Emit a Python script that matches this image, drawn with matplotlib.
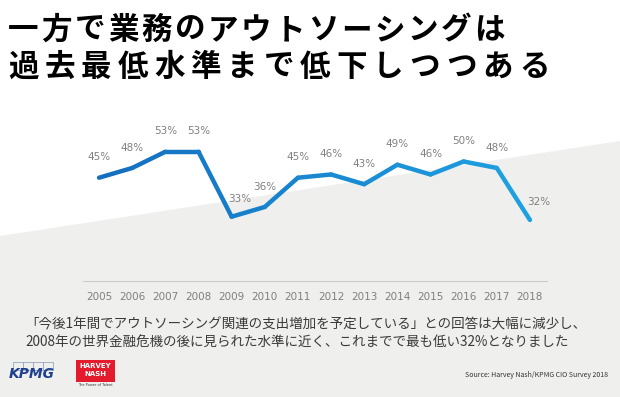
import numpy as np
import matplotlib
matplotlib.use("Agg")
import matplotlib.pyplot as plt
from matplotlib.patches import Polygon, Rectangle
from matplotlib.collections import LineCollection
from matplotlib.colors import LinearSegmentedColormap

plt.rcParams['font.family'] = ['Noto Sans CJK JP', 'DejaVu Sans']

years = [2005, 2006, 2007, 2008, 2009, 2010, 2011, 2012, 2013, 2014, 2015, 2016, 2017, 2018]
values = [45, 48, 53, 53, 33, 36, 45, 46, 43, 49, 46, 50, 48, 32]
labels = [f"{v}%" for v in values]

title_lines = ["一方で業務のアウトソーシングは", "過去最低水準まで低下しつつある"]
note_lines = ["「今後1年間でアウトソーシング関連の支出増加を予定している」との回答は大幅に減少し、",
              "2008年の世界金融危機の後に見られた水準に近く、これまでで最も低い32%となりました"]
source = "Source: Harvey Nash/KPMG CIO Survey 2018"

W, H = 620, 397
fig = plt.figure(figsize=(W / 100, H / 100), dpi=100)
fig.patch.set_facecolor('white')

def fx(px):
    return px / W

def fy(py):
    return 1 - py / H

# grey diagonal background, kept behind the axes
bg = Polygon([(0, fy(236)), (1, fy(141)), (1, 0), (0, 0)], closed=True,
             transform=fig.transFigure, facecolor='#efefed', edgecolor='none', zorder=-10)
fig.patches.append(bg)

# title, one glyph at a time to get the wide spacing
for line, y, pitch in zip(title_lines, [30, 67], [33.3, 36.5]):
    for i, ch in enumerate(line):
        fig.text(fx(8 + i * pitch), fy(y), ch, fontsize=22, fontweight='bold',
                 color='black', ha='left', va='center')

ax = fig.add_axes([fx(82.5), fy(281), fx(464), fy(129) - fy(281)])
ax.set_facecolor('none')
ax.set_zorder(5)
ax.set_xlim(2004.5, 2018.5)
ax.set_ylim(13.2, 60)

x = np.array(years, dtype=float)
y = np.array(values, dtype=float)
pts = np.column_stack([x, y]).reshape(-1, 1, 2)
segs = np.concatenate([pts[:-1], pts[1:]], axis=1)
cmap = LinearSegmentedColormap.from_list('blues', ['#1470bf', '#1e9fe0'])
lc = LineCollection(segs, colors=cmap(np.linspace(0, 1, len(segs))), linewidths=3.2,
                    capstyle='round', joinstyle='round')
ax.add_collection(lc)

label_font = ['Liberation Sans Narrow', 'DejaVu Sans']
for xi, yi, lab in zip(years, values, labels):
    dx, dy = 0, 11
    if xi in (2009, 2018):
        dx, dy = 6, 9
    ax.annotate(lab, (xi, yi), xytext=(dx, dy), textcoords='offset points',
                ha='center', va='bottom', fontsize=7.5, color='#808080', family=label_font)

for s in ['top', 'right', 'left']:
    ax.spines[s].set_visible(False)
ax.spines['bottom'].set_color('#cccccc')
ax.spines['bottom'].set_linewidth(0.8)
ax.set_yticks([])
ax.set_xticks(years)
ax.set_xticklabels([str(v) for v in years], fontsize=7.5, color='#808080', family=label_font)
ax.tick_params(axis='x', length=0, pad=8)

for line, y in zip(note_lines, [324, 342]):
    fig.text(fx(25), fy(y), line, fontsize=9.75, color='#3a3a3a', ha='left', va='center')

fig.text(fx(608), fy(375), source, fontsize=5, color='#333333', ha='right', va='center')

# KPMG logo
for i in range(4):
    fig.patches.append(Rectangle((fx(13 + i * 10), fy(370)), fx(9.5), fy(362) - fy(370),
                                 transform=fig.transFigure, facecolor='none',
                                 edgecolor='#9aa8c0', linewidth=0.6))
fig.text(fx(32), fy(374), 'KPMG', fontsize=10, fontweight='bold', fontstyle='italic',
         color='#1d3f8f', ha='center', va='center', family=['DejaVu Sans'])

# Harvey Nash logo
fig.patches.append(Rectangle((fx(76), fy(382)), fx(39), fy(360) - fy(382),
                             transform=fig.transFigure, facecolor='#e31b2c', edgecolor='none'))
fig.text(fx(95.5), fy(366), 'HARVEY', fontsize=5, fontweight='bold', color='white',
         ha='center', va='center', family=['DejaVu Sans'])
fig.text(fx(95.5), fy(374), 'NASH', fontsize=5, fontweight='bold', color='white',
         ha='center', va='center', family=['DejaVu Sans'])
fig.text(fx(95.5), fy(385), 'The Power of Talent', fontsize=2.5, color='#333333',
         ha='center', va='center', family=['DejaVu Sans'])

fig.savefig('out.png', dpi=100, facecolor=fig.get_facecolor())
